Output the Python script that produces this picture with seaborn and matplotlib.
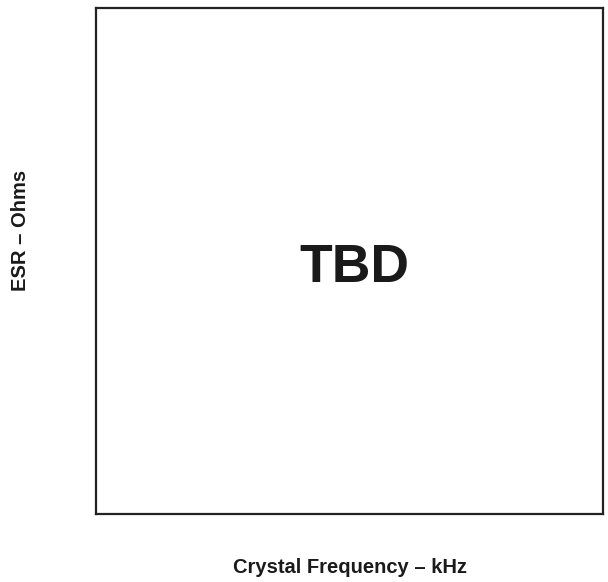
import matplotlib
matplotlib.use('Agg')
import matplotlib.pyplot as plt
import seaborn as sns

# Chart text (placeholder plot: no data series, only the frame and labels)
x_label = 'Crystal Frequency \u2013 kHz'
y_label = 'ESR \u2013 Ohms'
placeholder = 'TBD'

sns.set_style("white")
plt.rcParams['font.family'] = ['Liberation Sans', 'DejaVu Sans']

W, H = 608, 582
fig = plt.figure(figsize=(W / 100, H / 100), dpi=100)
ax = fig.add_axes([96 / W, 1 - 514 / H, (603 - 96) / W, (514 - 8) / H])

ax.set_xticks([])
ax.set_yticks([])
for s in ax.spines.values():
    s.set_visible(True)
    s.set_color('#222222')
    s.set_linewidth(1.6)

# placeholder text, baseline placed to match the reference
fig.text(354 / W, 1 - 282 / H, placeholder, ha='center', va='baseline',
         fontsize=38.5, fontweight='bold', color='#1a1a1a')

fig.text(350 / W, 1 - 573 / H, x_label, ha='center', va='baseline',
         fontsize=14.5, fontweight='bold', color='#1a1a1a')
fig.text(21 / W, 1 - 230 / H, y_label, ha='center', va='center', rotation=90,
         fontsize=14.5, fontweight='bold', color='#1a1a1a')

plt.savefig('out.png', dpi=100)
plt.close()
